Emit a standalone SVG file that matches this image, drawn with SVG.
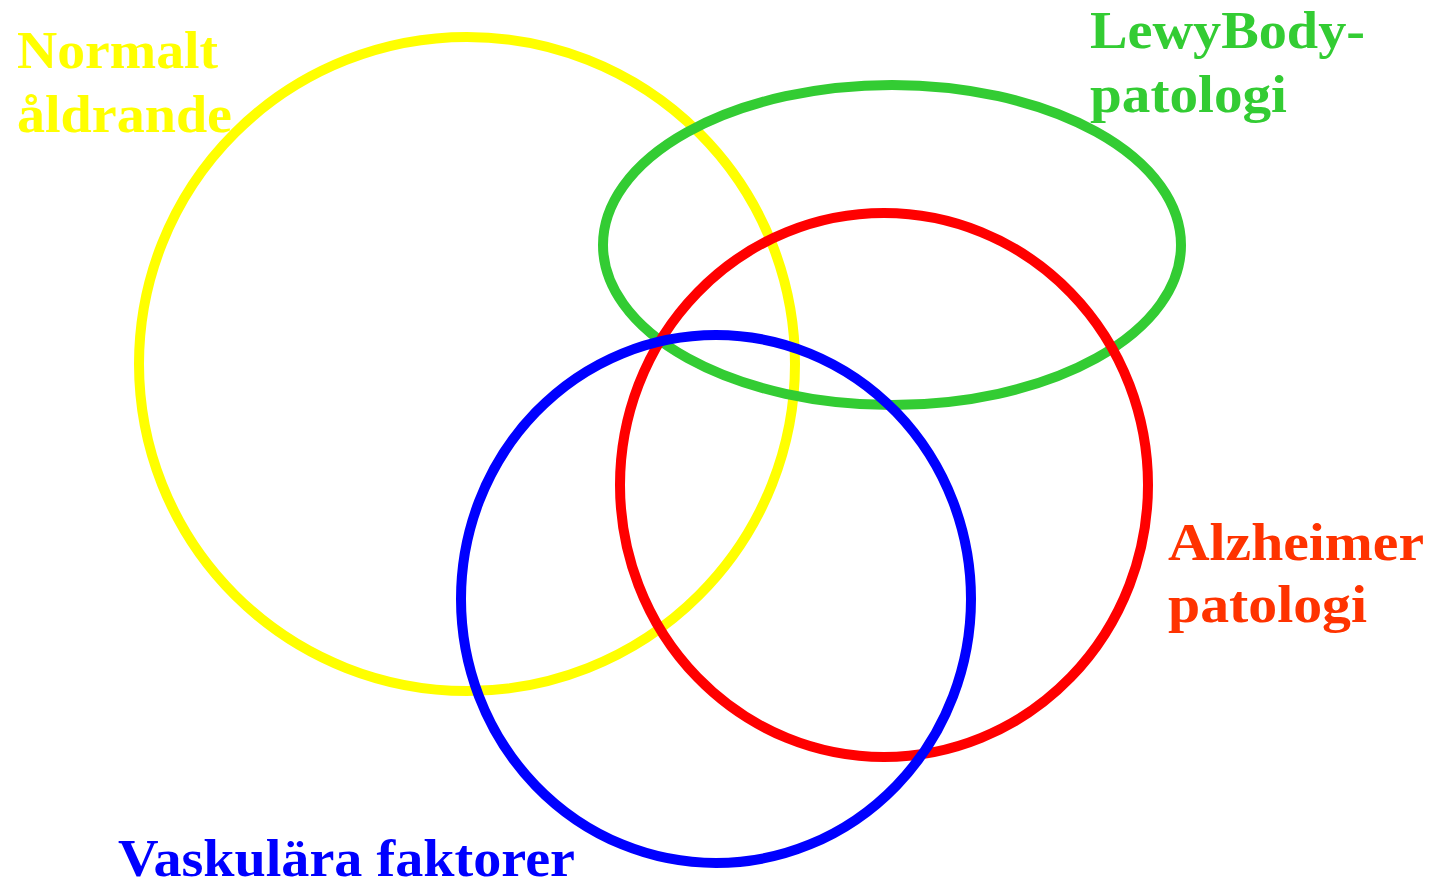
<svg xmlns="http://www.w3.org/2000/svg" width="1433" height="886" viewBox="0 0 1433 886">
<style>
.c{fill:none;stroke-width:10}
.t{font-family:"Liberation Serif","DejaVu Serif",serif;font-weight:bold;font-size:52px}
</style>
<rect width="1433" height="886" fill="#ffffff"/>
<g id="connectors"></g>
<g id="normalt">
<ellipse class="c" cx="467" cy="364" rx="328" ry="327" stroke="#FFFF00"/>
<text class="t" fill="#FFFF00" x="17" y="68" textLength="201" lengthAdjust="spacingAndGlyphs">Normalt</text>
<text class="t" fill="#FFFF00" x="17" y="132" textLength="215" lengthAdjust="spacingAndGlyphs">åldrande</text>
</g>
<g id="lewy">
<ellipse class="c" cx="892" cy="245" rx="289" ry="160" stroke="#33CC33"/>
<text class="t" fill="#33CC33" x="1090" y="48" textLength="275" lengthAdjust="spacingAndGlyphs">LewyBody-</text>
<text class="t" fill="#33CC33" x="1090" y="112" textLength="197" lengthAdjust="spacingAndGlyphs">patologi</text>
</g>
<g id="alzheimer">
<ellipse class="c" cx="884" cy="485" rx="264" ry="272" stroke="#FF0000"/>
<text class="t" fill="#FF3300" x="1168" y="560" textLength="256" lengthAdjust="spacingAndGlyphs">Alzheimer</text>
<text class="t" fill="#FF3300" x="1168" y="622" textLength="199" lengthAdjust="spacingAndGlyphs">patologi</text>
</g>
<g id="vaskular">
<ellipse class="c" cx="716" cy="599" rx="255" ry="264" stroke="#0000FF"/>
<text class="t" fill="#0000FF" x="118" y="876" textLength="457" lengthAdjust="spacingAndGlyphs">Vaskulära faktorer</text>
</g>
</svg>
